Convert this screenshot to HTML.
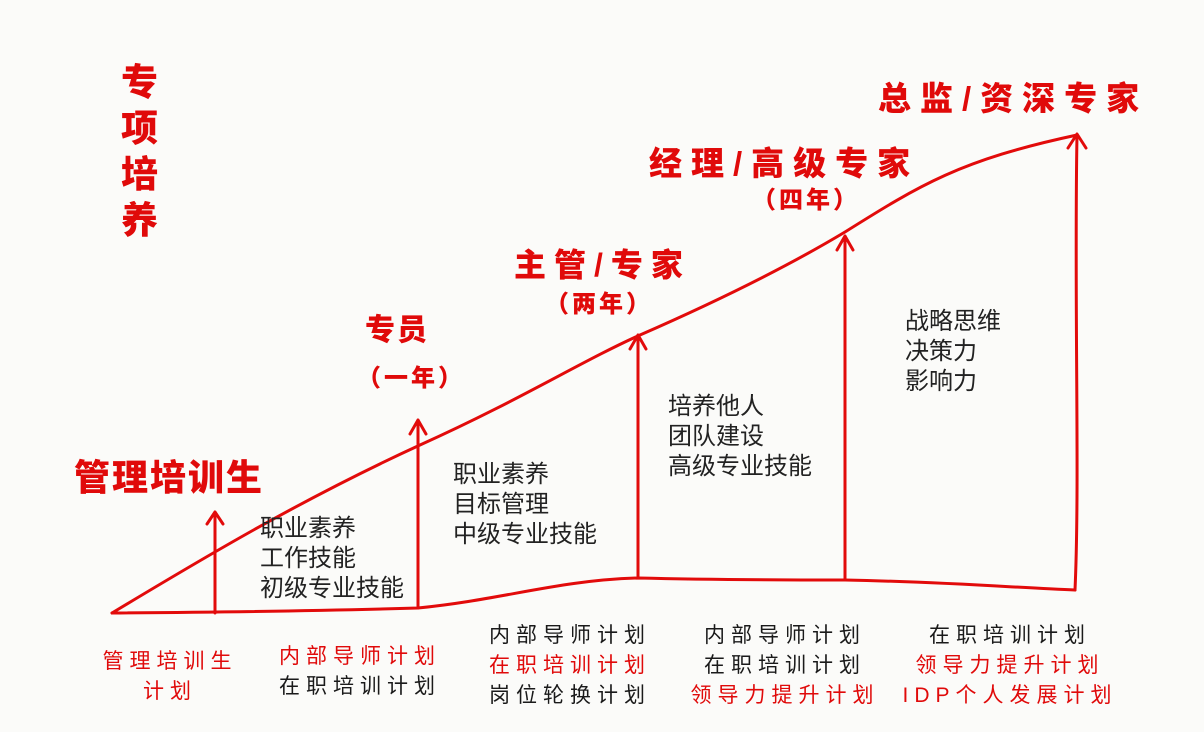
<!DOCTYPE html>
<html><head><meta charset="utf-8">
<style>
body{margin:0;width:1204px;height:732px;background:#fbfbf9;position:relative;overflow:hidden;font-family:"Liberation Sans","Noto Sans CJK SC",sans-serif;}
.a{position:absolute;white-space:nowrap;}
.t{color:#e00a0a;font-weight:900;}
.k{color:#222;font-size:24px;line-height:30px;}
.b{font-size:21px;line-height:30px;letter-spacing:6px;text-align:center;color:#1a1a1a;}
.r{color:#e00a0a;}
svg{position:absolute;left:0;top:0;}
</style></head><body>
<svg width="1204" height="732">
<g fill="none" stroke="#e20b0b" stroke-width="3" stroke-linecap="round" stroke-linejoin="round">
<path d="M112,613 C200,560 300,500 420,445 C520,400 580,362 640,335 C720,300 790,265 845,232 C920,185 960,160 1077,135"/>
<path d="M112,613 C250,612 350,610 418,608 C500,600 560,580 638,578 C720,580 800,580 845,580 C950,582 1020,588 1075,590"/>
<path d="M1075,590 C1080,480 1074,300 1077,135"/>
<path d="M215,613 L215,512 M207,524 L215,512 L223,524"/>
<path d="M418,608 L418,420 M410,434 L418,420 L426,434"/>
<path d="M638,578 L638,335 M630,349 L638,335 L646,349"/>
<path d="M845,580 L845,236 M837,250 L845,236 L853,250"/>
<path d="M1068,148 L1077,134 L1086,148"/>
</g>
</svg>
<div class="a t" style="left:121px;top:60px;font-size:37px;line-height:46px;width:40px;">专<br>项<br>培<br>养</div>
<div class="a t" style="left:74px;top:449px;font-size:36px;letter-spacing:2px;">管理培训生</div>
<div class="a t" style="left:365px;top:305px;font-size:30px;letter-spacing:2px;">专员</div>
<div class="a t" style="left:357px;top:358px;font-size:24px;letter-spacing:3px;">（一年）</div>
<div class="a t" style="left:514px;top:240px;font-size:32px;letter-spacing:8px;">主管/专家</div>
<div class="a t" style="left:545px;top:284px;font-size:24px;letter-spacing:3px;">（两年）</div>
<div class="a t" style="left:649px;top:137px;font-size:33px;letter-spacing:9px;">经理/高级专家</div>
<div class="a t" style="left:752px;top:180px;font-size:24px;letter-spacing:3px;">（四年）</div>
<div class="a t" style="left:878px;top:72px;font-size:33px;letter-spacing:9px;">总监/资深专家</div>
<div class="a k" style="left:260px;top:514px;">职业素养<br>工作技能<br>初级专业技能</div>
<div class="a k" style="left:453px;top:460px;">职业素养<br>目标管理<br>中级专业技能</div>
<div class="a k" style="left:668px;top:392px;">培养他人<br>团队建设<br>高级专业技能</div>
<div class="a k" style="left:905px;top:307px;">战略思维<br>决策力<br>影响力</div>
<div class="a b" style="left:80px;top:647px;width:180px;"><span class="r">管理培训生<br>计划</span></div>
<div class="a b" style="left:260px;top:642px;width:200px;"><span class="r">内部导师计划</span><br>在职培训计划</div>
<div class="a b" style="left:470px;top:621px;width:200px;">内部导师计划<br><span class="r">在职培训计划</span><br>岗位轮换计划</div>
<div class="a b" style="left:675px;top:621px;width:220px;">内部导师计划<br>在职培训计划<br><span class="r">领导力提升计划</span></div>
<div class="a b" style="left:895px;top:621px;width:230px;">在职培训计划<br><span class="r">领导力提升计划<br>IDP个人发展计划</span></div>
</body></html>
